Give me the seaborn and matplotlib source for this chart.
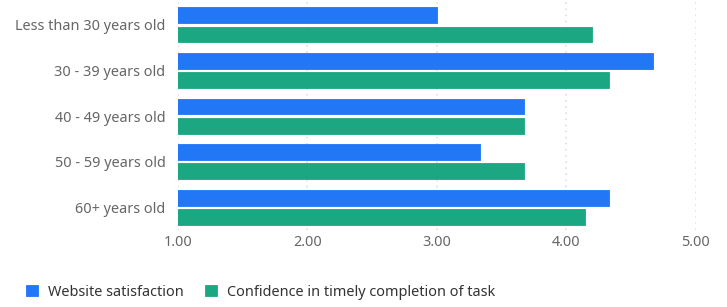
import pandas as pd
import matplotlib.pyplot as plt
import seaborn as sns

sns.set_style('white')
plt.rcParams['font.family'] = ['Noto Sans', 'DejaVu Sans']

age_groups = ['Less than 30 years old', '30 - 39 years old', '40 - 49 years old',
              '50 - 59 years old', '60+ years old']
series_names = ['Website satisfaction', 'Confidence in timely completion of task']
website_satisfaction = [3.00, 4.67, 3.67, 3.33, 4.33]
confidence_timely = [4.20, 4.33, 3.67, 3.67, 4.14]
x_ticks = [1.0, 2.0, 3.0, 4.0, 5.0]

df = pd.DataFrame({
    'group': age_groups * 2,
    'series': [series_names[0]] * 5 + [series_names[1]] * 5,
    'value': website_satisfaction + confidence_timely,
})

colors = ['#2277F6', '#1CA783']

fig = plt.figure(figsize=(7.27, 3.07), dpi=100)
ax = fig.add_axes([0.2448, 0.251, 0.7125, 0.742])

sns.barplot(data=df, y='group', x='value', hue='series', order=age_groups,
            hue_order=series_names, palette=colors, width=0.84, gap=0.17,
            orient='h', ax=ax, errorbar=None, saturation=1, legend=True)

for p in ax.patches:
    p.set_edgecolor(p.get_facecolor())
    p.set_linewidth(0.6)
    p.set_joinstyle('round')

ax.set_xlim(1, 5)
ax.set_ylim(4.5, -0.5)
ax.set_xticks(x_ticks)
ax.set_xticklabels([f'{t:.2f}' for t in x_ticks])
ax.set_xlabel('')
ax.set_ylabel('')
ax.xaxis.grid(True, linestyle=(0, (1, 3)), color='#dadada', linewidth=1.1)
ax.yaxis.grid(False)
ax.set_axisbelow(True)
for s in ax.spines.values():
    s.set_visible(False)
ax.tick_params(axis='both', length=0, colors='#666666', labelsize=10.4)
ax.tick_params(axis='y', pad=9)
ax.tick_params(axis='x', pad=4)

handles, labels = ax.get_legend_handles_labels()
ax.get_legend().remove()
fig.legend(handles, labels, loc='center left', bbox_to_anchor=(0.018, 0.048),
           ncol=2, frameon=False, fontsize=10.4, handlelength=0.8, handleheight=0.8,
           handletextpad=0.7, columnspacing=1.5, labelcolor='#333333')

plt.savefig('out.png', dpi=100)
